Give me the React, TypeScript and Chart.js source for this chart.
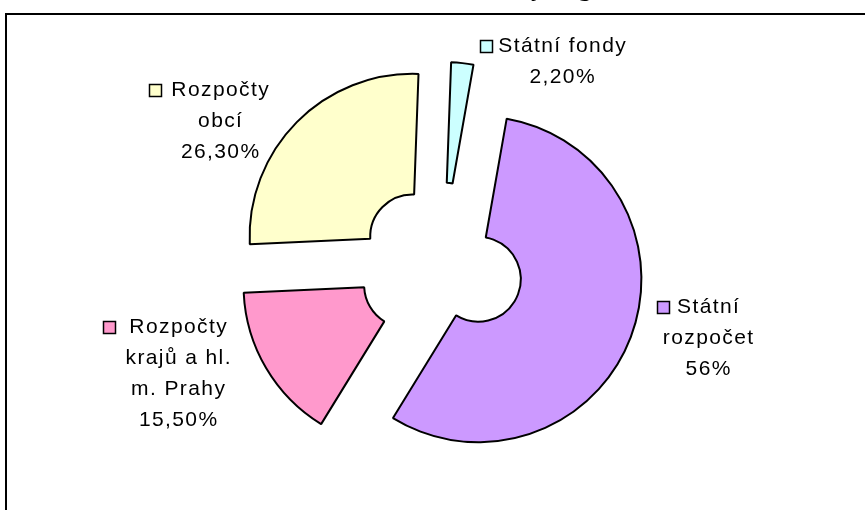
import React, { useEffect, useRef } from "react";
import { Chart, registerables } from "chart.js";

Chart.register(...registerables);

// ---- data ----
const categories = [
  "Státní rozpočet",
  "Rozpočty krajů a hl. m. Prahy",
  "Rozpočty obcí",
  "Státní fondy",
];
const shares = [56, 15.5, 26.3, 2.2];
const shareLabels = ["56%", "15,50%", "26,30%", "2,20%"];
const labelLines = [
  ["Státní", "rozpočet"],
  ["Rozpočty", "krajů a hl.", "m. Prahy"],
  ["Rozpočty", "obcí"],
  ["Státní fondy"],
];
const titleText =
  "Struktura daní dle určení: státní fondy, regionální a místní úroveň, kraje";

// ---- styles / layout ----
const colors = ["#CC99FF", "#FF99CC", "#FFFFCC", "#CCFFFF"];
const EXPLODE = 40;
const LINE_H = 31;
const labelPos = [
  { cx: 708, y: 307, kx: 657 },
  { cx: 178, y: 327, kx: 103 },
  { cx: 220, y: 90, kx: 149 },
  { cx: 562, y: 46, kx: 480 },
];

const explodePlugin = {
  id: "explodeSlices",
  afterDatasetsUpdate(chart: any) {
    const meta = chart.getDatasetMeta(0);
    meta.data.forEach((arc: any) => {
      const mid = (arc.startAngle + arc.endAngle) / 2;
      arc.x += Math.cos(mid) * EXPLODE;
      arc.y += Math.sin(mid) * EXPLODE;
    });
  },
};

const decorPlugin = {
  id: "decor",
  afterDraw(chart: any) {
    const ctx: CanvasRenderingContext2D = chart.ctx;
    ctx.save();
    // frame
    ctx.strokeStyle = "#000";
    ctx.lineWidth = 2;
    ctx.beginPath();
    ctx.moveTo(6, 512);
    ctx.lineTo(6, 14);
    ctx.lineTo(868, 14);
    ctx.stroke();

    // title (cut off at top)
    ctx.font = "bold 26px 'Liberation Serif'";
    ctx.fillStyle = "#000";
    ctx.textAlign = "left";
    ctx.textBaseline = "alphabetic";
    const idx = titleText.indexOf("fondy") + 4;
    const pre = ctx.measureText(titleText.slice(0, idx)).width;
    ctx.fillText(titleText, 531 - pre, -4);

    // labels
    ctx.font = "21px 'Liberation Sans'";
    (ctx as any).letterSpacing = "1.4px";
    ctx.textAlign = "center";
    ctx.textBaseline = "middle";
    labelPos.forEach((p, i) => {
      const lines = [...labelLines[i], shareLabels[i]];
      ctx.fillStyle = "#000";
      lines.forEach((t, j) => ctx.fillText(t, p.cx + 0.7, p.y + j * LINE_H));
      ctx.fillStyle = colors[i];
      ctx.fillRect(p.kx, p.y - 6, 13, 13);
      ctx.strokeStyle = "#000";
      ctx.lineWidth = 1.5;
      ctx.strokeRect(p.kx + 0.5, p.y - 5.5, 12, 12);
    });
    ctx.restore();
  },
};

export default function App() {
  const ref = useRef<HTMLCanvasElement | null>(null);
  useEffect(() => {
    document.body.style.margin = "0";
    const chart = new Chart(ref.current as HTMLCanvasElement, {
      type: "doughnut",
      data: {
        labels: categories,
        datasets: [
          {
            data: shares,
            backgroundColor: colors,
            borderColor: "#000",
            borderWidth: 2,
            hoverBorderWidth: 2,
            hoverOffset: 0,
            offset: 0,
          },
        ],
      },
      options: {
        responsive: false,
        animation: false,
        events: [],
        rotation: 10,
        cutout: "26%",
        layout: { padding: { left: 277, right: 260, top: 101, bottom: 81 } },
        plugins: {
          legend: { display: false },
          tooltip: { enabled: false },
          title: { display: false },
        },
      },
      plugins: [explodePlugin, decorPlugin],
    });
    return () => chart.destroy();
  }, []);
  return (
    <div style={{ position: "fixed", left: 0, top: 0, width: 865, height: 510, background: "#fff" }}>
      <canvas ref={ref} width={865} height={510} style={{ width: 865, height: 510, display: "block" }} />
    </div>
  );
}
